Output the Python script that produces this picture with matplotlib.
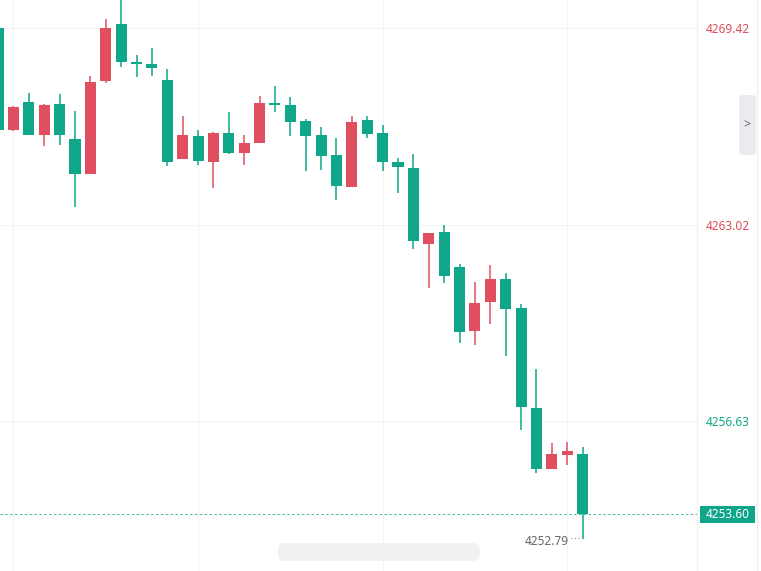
import numpy as np
import matplotlib.pyplot as plt
from matplotlib.patches import FancyBboxPatch, Rectangle
from matplotlib.transforms import blended_transform_factory
from matplotlib.lines import Line2D

plt.rcParams['font.family'] = ['Noto Sans', 'DejaVu Sans']

# OHLC (red = close above open, green = close below open)
opens = [4269.42, 4266.10, 4267.01, 4265.94, 4266.95, 4265.81, 4264.67, 4267.70, 4269.55,
         4268.31, 4268.25, 4267.73, 4265.16, 4265.91, 4265.06, 4266.00, 4265.35, 4265.68,
         4266.98, 4266.91, 4266.39, 4265.94, 4265.29, 4264.25, 4266.43, 4266.00, 4265.06,
         4264.86, 4262.39, 4262.78, 4261.64, 4259.56, 4260.50, 4261.25, 4260.31, 4257.06,
         4255.07, 4255.53, 4255.56]
closes = [4266.10, 4266.85, 4265.94, 4266.91, 4265.94, 4264.67, 4267.66, 4269.42, 4268.31,
          4268.25, 4268.12, 4265.06, 4265.94, 4265.09, 4266.00, 4265.35, 4265.68, 4266.98,
          4266.91, 4266.36, 4265.91, 4265.26, 4264.28, 4266.36, 4265.97, 4265.06, 4264.90,
          4262.49, 4262.75, 4261.35, 4259.53, 4260.47, 4261.25, 4260.28, 4257.09, 4255.07,
          4255.56, 4255.66, 4253.60]
highs = [4269.60, 4266.88, 4267.31, 4266.95, 4267.27, 4266.72, 4267.86, 4269.71, 4270.50,
         4268.54, 4268.77, 4268.09, 4266.56, 4266.10, 4266.04, 4266.69, 4265.94, 4267.21,
         4267.53, 4267.18, 4266.46, 4266.20, 4265.84, 4266.56, 4266.56, 4266.26, 4265.19,
         4265.32, 4262.75, 4263.01, 4261.74, 4261.16, 4261.71, 4261.45, 4260.44, 4258.32,
         4255.92, 4255.95, 4255.79]
lows = [4266.00, 4266.07, 4265.94, 4265.58, 4265.61, 4263.60, 4264.67, 4267.63, 4268.15,
        4267.83, 4267.86, 4264.93, 4265.16, 4264.96, 4264.21, 4265.32, 4264.96, 4265.68,
        4266.69, 4265.91, 4264.77, 4264.80, 4263.82, 4264.25, 4265.84, 4264.77, 4264.05,
        4262.23, 4260.96, 4261.12, 4259.17, 4259.11, 4259.79, 4258.75, 4256.34, 4254.94,
        4255.07, 4255.20, 4252.79]

price_ticks = [4269.42, 4263.02, 4256.63]
tick_colors = ['#dc4d5b', '#dc4d5b', '#14a58a']
last_price = 4253.60
low_price = 4252.79

up_color = '#e04f5f'
down_color = '#0fa68a'

fig = plt.figure(figsize=(7.61, 5.71), dpi=100)
ax = fig.add_axes([0, 0, 697 / 761, 1])

x = np.arange(len(opens))
o = np.array(opens)
c = np.array(closes)
colors = np.where(c >= o, up_color, down_color)
body_lo = np.minimum(o, c)
body_h = np.maximum(np.abs(c - o), 0.05)

ax.vlines(x, lows, highs, colors=colors, linewidth=1.1, zorder=3)
ax.bar(x, body_h, bottom=body_lo, width=0.72, color=colors, linewidth=0, zorder=4)

ax.set_xlim(0.124, 45.44)
ax.set_ylim(4251.75, 4270.33)

ax.set_xticks([1, 13, 25, 37])
ax.set_xticklabels([])
ax.set_yticks(price_ticks)
ax.set_yticklabels([f"{v:.2f}" for v in price_ticks])
ax.yaxis.tick_right()
ax.tick_params(axis='y', length=0, pad=6, labelsize=8.5)
ax.tick_params(axis='x', length=0)
for lbl, col in zip(ax.get_yticklabels(), tick_colors):
    lbl.set_color(col)
ax.grid(color='#f3f3f3', linewidth=0.8, zorder=0)
for s in ['top', 'left', 'bottom']:
    ax.spines[s].set_visible(False)
ax.spines['right'].set_color('#efefef')

# last price line and tag
ax.axhline(last_price, color=down_color, linestyle=(0, (2.5, 2.5)), linewidth=0.7, alpha=0.8, zorder=2)
tr = blended_transform_factory(ax.transAxes, ax.transData)
ax.add_patch(Rectangle((1.004, last_price - 0.28), 55 / 697, 0.56, transform=tr,
                       facecolor='#0fa58a', edgecolor='none', clip_on=False, zorder=5))
ax.text(1.004 + 27.5 / 697, last_price, f"{last_price:.2f}", transform=tr, ha='center',
        va='center', color='white', fontsize=8.5, clip_on=False, zorder=6)

# lowest price marker
ax.annotate(f"{low_price:.2f}", xy=(x[-1], low_price), xytext=(-14, -2),
            textcoords='offset pixels', ha='right', va='center', fontsize=8.5, color='#666666')
ax.plot([x[-1] - 12 / 15.38, x[-1] - 2 / 15.38], [low_price + 0.03, low_price + 0.03],
        linestyle=(0, (1, 2)), color='#999999', linewidth=0.8)

# right side decoration
fig.add_artist(Line2D([757 / 761, 757 / 761], [0, 1], color='#eeeeee', linewidth=0.8))
fig.patches.append(FancyBboxPatch((739 / 761, 1 - 155 / 571), 17 / 761, 60 / 571,
                                  boxstyle='round,pad=0,rounding_size=0.006',
                                  transform=fig.transFigure, facecolor='#ebebef',
                                  edgecolor='none'))
fig.text(747 / 761, 1 - 125 / 571, '>', ha='center', va='center', fontsize=9, color='#666666')

# blurred watermark
fig.patches.append(FancyBboxPatch((278 / 761, 1 - 561 / 571), 202 / 761, 18 / 571,
                                  boxstyle='round,pad=0,rounding_size=0.01',
                                  transform=fig.transFigure, facecolor='#ececec',
                                  edgecolor='none', alpha=0.7))

fig.savefig('out.png', dpi=100)
